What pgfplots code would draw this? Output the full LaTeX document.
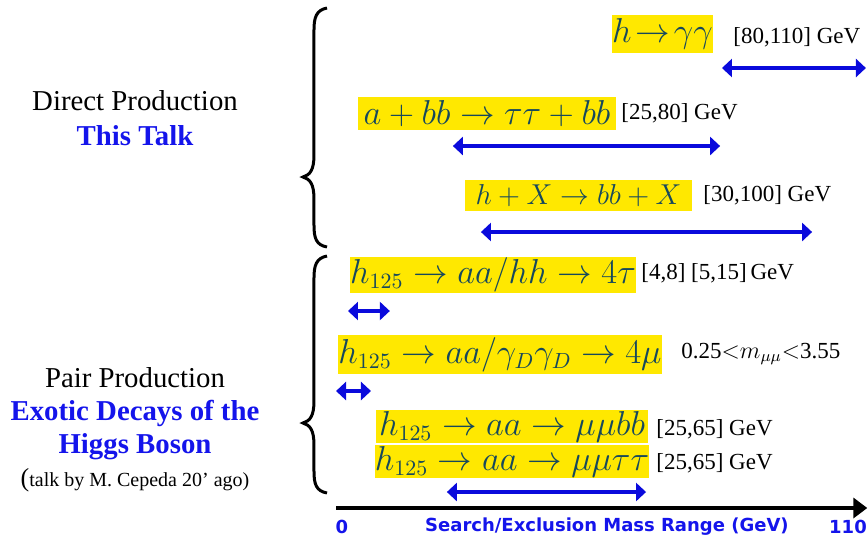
\documentclass[border=0pt]{standalone}
\usepackage{pgfplots}
\pgfplotsset{compat=1.18}
\usepackage{fontspec}
\setmainfont{Liberation Serif}
\newfontfamily\labelfont{DejaVu Sans}
\usetikzlibrary{arrows.meta}
\definecolor{hl}{RGB}{255,232,0}
\definecolor{formula}{RGB}{22,72,92}
\definecolor{rangeblue}{RGB}{10,10,220}
\definecolor{talkblue}{RGB}{20,20,235}
\begin{document}
\begin{tikzpicture}[
    rangearrow/.style={rangeblue, line width=2.2pt, {Triangle[length=5pt,width=9pt]}-{Triangle[length=5pt,width=9pt]}},
    proc/.style={fill=hl, text=formula, inner sep=0pt, font=\fontsize{16}{18}\selectfont},
    rng/.style={anchor=west, inner sep=0pt, font=\fontsize{11.5}{13}\selectfont},
    side/.style={align=center, font=\fontsize{14.4}{17}\selectfont},
    sideblue/.style={align=center, text=talkblue, font=\bfseries\fontsize{14.4}{17}\selectfont},
    ticktext/.style={text=talkblue, font=\labelfont\bfseries\fontsize{9}{10}\selectfont},
]
\begin{axis}[
    width=434pt, height=269pt,
    scale only axis,
    xmin=-74.35, xmax=114.35,
    ymin=0, ymax=538,
    y dir=reverse,
    axis lines=none,
    clip=false,
]
% search / exclusion ranges (GeV), y = row position
\addplot[rangearrow] coordinates {(82.6,68) (113.9,68)};
\addplot[rangearrow] coordinates {(24.1,146) (82.2,146)};
\addplot[rangearrow] coordinates {(30.2,232) (102.2,232)};
\addplot[rangearrow] coordinates {(1.3,311) (10.4,311)};
\addplot[rangearrow] coordinates {(-1.3,391) (6.3,391)};
\addplot[rangearrow] coordinates {(22.8,492) (66.1,492)};
% mass axis
\addplot[black, line width=2.2pt, -{Triangle[length=7pt,width=10pt]}] coordinates {(-1.3,508) (114.2,508)};

% processes
\node[proc, minimum width=46.5pt, minimum height=19pt] at (axis cs:69.67,34) {$h\mathrel{\mkern-3mu\to\mkern-3mu}\gamma\gamma$};
\node[proc, minimum width=129pt, minimum height=16.5pt] at (axis cs:31.52,113.5) {$a+bb\to\tau\tau+bb$};
\node[proc, minimum width=113.5pt, minimum height=15.5pt, font=\fontsize{15}{18}\selectfont] at (axis cs:51.41,195.5) {$h+X\to bb+X$};
\node[proc, minimum width=140pt, minimum height=18pt] at (axis cs:32.83,275) {$h_{125}\to aa/hh\to 4\tau$};
\node[proc, minimum width=162pt, minimum height=19.5pt] at (axis cs:34.35,354.5) {$h_{125}\to aa/\gamma_D\gamma_D\to 4\mu$};
\node[proc, minimum width=136pt, minimum height=16.5pt] at (axis cs:36.96,426.5) {$h_{125}\to aa\to \mu\mu bb$};
\node[proc, minimum width=136pt, minimum height=16.5pt] at (axis cs:36.96,461.5) {$h_{125}\to aa\to \mu\mu\tau\tau$};

% ranges as text
\node[rng] at (axis cs:85.0,37) {[80,110] GeV};
\node[rng] at (axis cs:60.65,113) {[25,80] GeV};
\node[rng] at (axis cs:78.48,195) {[30,100] GeV};
\node[rng] at (axis cs:65.0,273) {[4,8] [5,15]\,GeV};
\node[rng] at (axis cs:73.7,354) {0.25$<$$m_{\mu\mu}$$<$3.55};
\node[rng] at (axis cs:68.26,429) {[25,65] GeV};
\node[rng] at (axis cs:68.26,463) {[25,65] GeV};

% axis texts
\node[ticktext] at (axis cs:0,527) {0};
\node[ticktext] at (axis cs:57.6,527) {Search/Exclusion Mass Range (GeV)};
\node[ticktext] at (axis cs:110,527) {110};

% groups
\draw[line width=1.5pt] (axis cs:-3.26,8) .. controls (axis cs:-5.65,10) and (axis cs:-6.09,18) .. (axis cs:-6.09,30)
    -- (axis cs:-6.09,155) .. controls (axis cs:-6.09,170) and (axis cs:-6.96,175) .. (axis cs:-8.48,177)
    .. controls (axis cs:-6.96,179) and (axis cs:-6.09,184) .. (axis cs:-6.09,199)
    -- (axis cs:-6.09,225) .. controls (axis cs:-6.09,238) and (axis cs:-5.65,245) .. (axis cs:-3.26,247);
\draw[line width=1.5pt] (axis cs:-3.26,256) .. controls (axis cs:-5.65,258) and (axis cs:-6.09,266) .. (axis cs:-6.09,278)
    -- (axis cs:-6.09,401) .. controls (axis cs:-6.09,416) and (axis cs:-6.96,421) .. (axis cs:-8.48,423)
    .. controls (axis cs:-6.96,425) and (axis cs:-6.09,430) .. (axis cs:-6.09,445)
    -- (axis cs:-6.09,471) .. controls (axis cs:-6.09,484) and (axis cs:-5.65,491) .. (axis cs:-3.26,493);

\node[side] at (axis cs:-45,101) {Direct Production};
\node[sideblue] at (axis cs:-45,136) {This Talk};
\node[side] at (axis cs:-45,378) {Pair Production};
\node[sideblue] at (axis cs:-45,413) {Exotic Decays of the};
\node[sideblue] at (axis cs:-45,447) {Higgs Boson};
\node[side, font=\fontsize{10}{12}\selectfont] at (axis cs:-45,480) {{\fontsize{13}{14}\selectfont(}talk by M. Cepeda 20’ ago)};
\end{axis}
\pgfresetboundingbox
\path[use as bounding box] (current axis.south west) rectangle (current axis.north east);
\end{tikzpicture}
\end{document}
